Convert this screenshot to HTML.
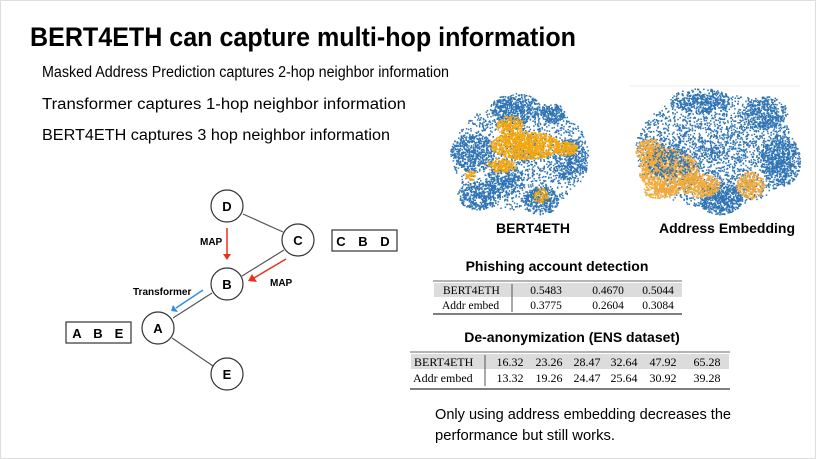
<!DOCTYPE html>
<html><head><meta charset="utf-8"><style>
html,body{margin:0;padding:0;background:#fff;}
svg{display:block;font-family:"Liberation Sans",sans-serif;}
</style></head><body>
<svg id="s" width="816" height="459" viewBox="0 0 816 459" xmlns="http://www.w3.org/2000/svg">
<rect x="0.5" y="0.5" width="815" height="458" fill="#fff" stroke="#ddd"/>
<text x="30" y="46" font-size="27" font-weight="bold" textLength="546" lengthAdjust="spacingAndGlyphs">BERT4ETH can capture multi-hop information</text>
<text x="42" y="77" font-size="15.5" textLength="407" lengthAdjust="spacingAndGlyphs">Masked Address Prediction captures 2-hop neighbor information</text>
<text x="42" y="109" font-size="15.5" textLength="364" lengthAdjust="spacingAndGlyphs">Transformer captures 1-hop neighbor information</text>
<text x="42" y="140" font-size="15.5" textLength="348" lengthAdjust="spacingAndGlyphs">BERT4ETH captures 3 hop neighbor information</text>

<g stroke="#555" stroke-width="1.2">
<line x1="243" y1="214" x2="283" y2="232"/>
<line x1="284" y1="250" x2="242" y2="276"/>
<line x1="212" y1="293" x2="173" y2="318"/>
<line x1="172" y1="338" x2="213" y2="366"/>
</g>
<g fill="#fff" stroke="#333" stroke-width="1.2">
<circle cx="227" cy="206" r="16"/><circle cx="298" cy="240" r="16"/>
<circle cx="227" cy="284" r="16"/><circle cx="158" cy="328" r="16"/>
<circle cx="227" cy="374" r="16"/>
<rect x="332" y="230" width="65" height="21"/><rect x="66" y="322" width="65" height="21"/>
</g>
<g font-size="13" font-weight="bold" text-anchor="middle">
<text x="227" y="211">D</text><text x="298" y="245">C</text><text x="227" y="289">B</text>
<text x="158" y="333">A</text><text x="227" y="379">E</text>
<text x="341" y="246">C</text><text x="363" y="246">B</text><text x="385" y="246">D</text>
<text x="77" y="338">A</text><text x="98" y="338">B</text><text x="119" y="338">E</text>
</g>
<g font-size="10" font-weight="bold">
<text x="200" y="245">MAP</text><text x="270" y="286">MAP</text><text x="133" y="295">Transformer</text>
</g>
<g stroke-width="1.5" fill="none">
<line x1="227" y1="228" x2="227" y2="255" stroke="#e8321e"/>
<line x1="286" y1="259" x2="254" y2="278" stroke="#e8321e"/>
<line x1="203" y1="290" x2="176" y2="308" stroke="#2e8de8"/>
</g>
<path d="M223,254 L231,254 L227,260Z" fill="#e8321e"/>
<path d="M252,274 L257,282 L248,281Z" fill="#e8321e"/>
<path d="M173,305 L178,312 L171,311Z" fill="#2e8de8"/>

<g id="sc"></g>
<text x="533" y="233" font-size="14" font-weight="bold" text-anchor="middle">BERT4ETH</text>
<text x="727" y="233" font-size="14" font-weight="bold" text-anchor="middle" textLength="136" lengthAdjust="spacingAndGlyphs">Address Embedding</text>
<line x1="630" y1="86" x2="800" y2="86" stroke="#eee"/>

<text x="557" y="271" font-size="14" font-weight="bold" text-anchor="middle">Phishing account detection</text>
<rect x="434" y="283" width="248" height="14" fill="#dcdcdc"/>
<line x1="433" y1="281" x2="682" y2="281" stroke="#888" stroke-width="1.2"/>
<line x1="433" y1="314" x2="682" y2="314" stroke="#555" stroke-width="1.5"/>
<line x1="512" y1="284" x2="512" y2="312" stroke="#555"/>
<g font-family="Liberation Serif,serif" font-size="11.5">
<text x="443" y="294">BERT4ETH</text><text x="442" y="309">Addr embed</text>
<g text-anchor="middle"><text x="546" y="294">0.5483</text><text x="608" y="294">0.4670</text><text x="658" y="294">0.5044</text>
<text x="546" y="309">0.3775</text><text x="608" y="309">0.2604</text><text x="658" y="309">0.3084</text></g>
</g>

<text x="572" y="342" font-size="14" font-weight="bold" text-anchor="middle">De-anonymization (ENS dataset)</text>
<rect x="411" y="354" width="318" height="15" fill="#dcdcdc"/>
<line x1="410" y1="352" x2="730" y2="352" stroke="#888" stroke-width="1.2"/>
<line x1="410" y1="389" x2="730" y2="389" stroke="#555" stroke-width="1.5"/>
<line x1="485" y1="355" x2="485" y2="386" stroke="#555"/>
<g font-family="Liberation Serif,serif" font-size="12">
<text x="414" y="366">BERT4ETH</text><text x="413" y="382">Addr embed</text>
<g text-anchor="middle"><text x="510" y="366">16.32</text><text x="549" y="366">23.26</text><text x="587" y="366">28.47</text><text x="624" y="366">32.64</text><text x="663" y="366">47.92</text><text x="707" y="366">65.28</text>
<text x="510" y="382">13.32</text><text x="549" y="382">19.26</text><text x="587" y="382">24.47</text><text x="624" y="382">25.64</text><text x="663" y="382">30.92</text><text x="707" y="382">39.28</text></g>
</g>
<text x="435" y="419" font-size="14.5" textLength="296" lengthAdjust="spacingAndGlyphs">Only using address embedding decreases the</text>
<text x="435" y="440" font-size="14.5" textLength="180" lengthAdjust="spacingAndGlyphs">performance but still works.</text>
</svg>
<script>
(function(){
var g=document.getElementById('sc'),ns='http://www.w3.org/2000/svg',seed=7;
function r(){seed=(seed*16807)%2147483647;return seed/2147483647;}
function blob(cx,cy,rx,ry,n,col){for(var i=0;i<n;i++){var a=r()*6.2832,d=Math.pow(r(),0.6);var c=document.createElementNS(ns,'rect');c.setAttribute('x',(cx+Math.cos(a)*d*rx).toFixed(1));c.setAttribute('y',(cy+Math.sin(a)*d*ry).toFixed(1));c.setAttribute('width',1.5);c.setAttribute('height',1.5);c.setAttribute('fill',col);g.appendChild(c);}}
var B='#2f74b5',O='#f5a70e',O2='#f2aa3a';
// left envelope 450-590, 92-215
blob(520,155,68,55,1500,B);
blob(515,108,25,15,500,B);blob(552,113,12,10,200,B);blob(472,152,22,20,500,B);blob(570,160,18,22,400,B);
blob(478,195,22,14,400,B);blob(540,200,18,14,350,B);blob(505,180,20,15,300,B);
blob(525,145,35,14,1100,O);blob(510,125,14,10,250,O);blob(500,165,16,7,200,O);blob(565,148,12,7,180,O);blob(540,195,8,8,80,O);blob(470,175,6,5,40,O);
// right envelope 632-800, 92-213
blob(715,150,80,58,2600,B);blob(780,160,20,26,600,B);blob(765,112,22,16,400,B);blob(720,198,22,16,500,B);blob(700,100,30,12,400,B);
blob(668,170,30,22,1100,O2);blob(650,150,15,12,300,O2);blob(700,185,20,12,400,O2);blob(750,185,14,14,300,O2);blob(660,190,18,8,200,O2);
blob(670,160,25,18,250,B);
})();
</script>
</body></html>
